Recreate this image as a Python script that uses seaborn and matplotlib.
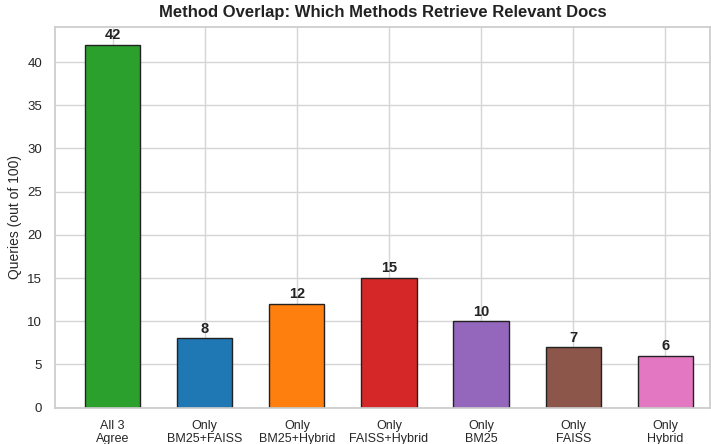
import matplotlib
matplotlib.use("Agg")
import matplotlib.pyplot as plt
import seaborn as sns
import pandas as pd

categories = ["All 3\nAgree", "Only\nBM25+FAISS", "Only\nBM25+Hybrid", "Only\nFAISS+Hybrid",
              "Only\nBM25", "Only\nFAISS", "Only\nHybrid"]
counts = [42, 8, 12, 15, 10, 7, 6]
colors = ["#2ca02c", "#1f77b4", "#ff7f0e", "#d62728", "#9467bd", "#8c564b", "#e377c2"]

sns.set_theme(style="whitegrid")
plt.rcParams["font.family"] = ["Liberation Sans", "DejaVu Sans"]

df = pd.DataFrame({"category": categories, "count": counts})

fig, ax = plt.subplots(figsize=(7.11, 4.44), dpi=100)
sns.barplot(data=df, x="category", y="count", hue="category", palette=colors,
            width=0.6, edgecolor="#222222", linewidth=1.0, legend=False, ax=ax, saturation=1)

for i, v in enumerate(counts):
    ax.text(i, v + 0.3, str(v), ha="center", va="bottom", fontsize=10.5, fontweight="bold", color="#222222")

ax.set_axisbelow(True)
ax.grid(True, axis="both", color="#d5d5d5", linewidth=1.0)
ax.set_xlim(-0.62, 6.48)
ax.set_ylim(0, 44.1)
ax.set_xlabel("")
ax.set_ylabel("Queries (out of 100)", fontsize=10)
ax.set_title("Method Overlap: Which Methods Retrieve Relevant Docs", fontsize=12, fontweight="bold",
             color="#222222", pad=7)
ax.tick_params(axis="x", labelsize=9, pad=3)
ax.tick_params(axis="y", labelsize=9.5)
for lbl in ax.get_xticklabels():
    lbl.set_linespacing(1.1)
for s in ax.spines.values():
    s.set_color("#cccccc")

fig.subplots_adjust(left=0.078, right=0.998, top=0.94, bottom=0.082)
fig.savefig("out.png", dpi=100)
